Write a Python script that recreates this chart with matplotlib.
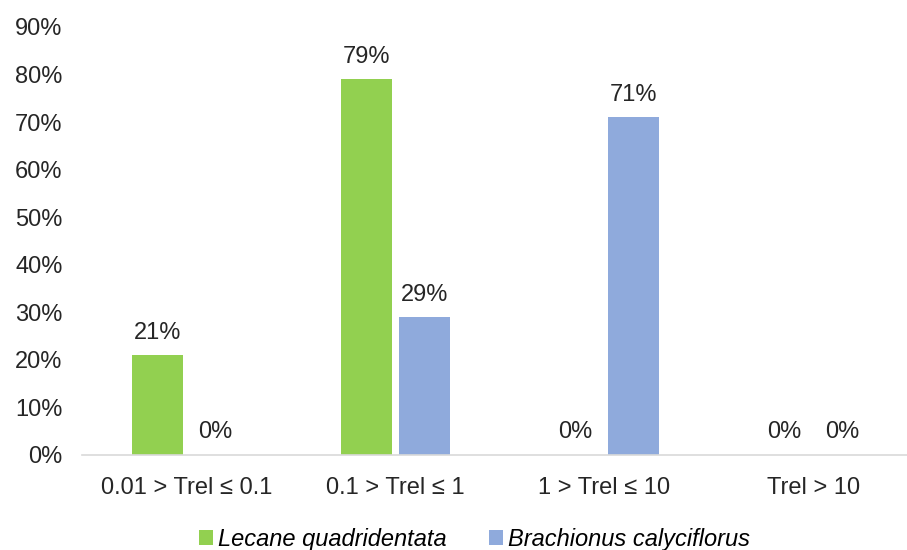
import numpy as np
import matplotlib.pyplot as plt

plt.rcParams['font.family'] = ['Liberation Sans', 'DejaVu Sans']

categories = ['0.01 > Trel ≤ 0.1', '0.1 > Trel ≤ 1', '1 > Trel ≤ 10', 'Trel > 10']
lecane = [21, 79, 0, 0]
brachionus = [0, 29, 71, 0]
series_names = ['Lecane quadridentata', 'Brachionus calyciflorus']

fs = 17

fig = plt.figure(figsize=(9.07, 5.5), dpi=100)
ax = fig.add_axes([0.0904, 0.173, 0.9217, 0.778])

x = np.arange(len(categories))
w = 0.24
off = 0.139
b1 = ax.bar(x - off, lecane, w, color='#92D050', label=series_names[0])
b2 = ax.bar(x + off, brachionus, w, color='#8FAADC', label=series_names[1])

# percentage labels above each bar
for bars, vals in ((b1, lecane), (b2, brachionus)):
    for rect, v in zip(bars, vals):
        ax.text(rect.get_x() + rect.get_width() / 2, v + 2.4, f'{v}%',
                ha='center', va='bottom', fontsize=fs, color='#262626')

ax.set_xlim(-0.5, len(categories) - 0.5)
ax.set_ylim(0, 90)
ax.set_yticks(range(0, 91, 10))
ax.set_yticklabels([f'{t}%' for t in range(0, 91, 10)])
ax.set_xticks(x)
ax.set_xticklabels(categories)
ax.tick_params(axis='both', length=0, labelsize=fs, colors='#262626')
ax.tick_params(axis='x', pad=16)
ax.tick_params(axis='y', pad=14)

for s in ('top', 'right', 'left'):
    ax.spines[s].set_visible(False)
ax.spines['bottom'].set_color('#D9D9D9')
ax.spines['bottom'].set_linewidth(1.2)

fig.legend(handles=[b1, b2], loc='lower center', bbox_to_anchor=(0.523, -0.04),
           ncol=2, frameon=False, handlelength=0.6,
           handleheight=0.6, handletextpad=0.2, columnspacing=1.8,
           prop={'style': 'italic', 'size': fs})

fig.savefig('out.png', dpi=100)
